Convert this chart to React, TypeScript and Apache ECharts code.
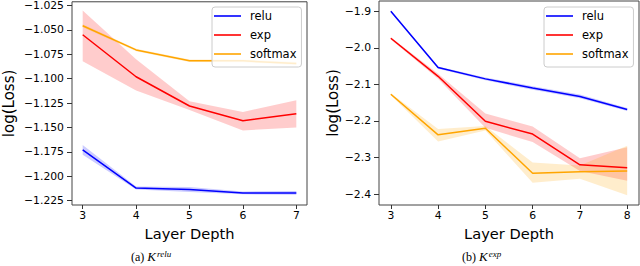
import React, { useEffect, useRef } from "react";
import * as echarts from "echarts";

// ---- Panel (a): K^relu ----
const depthsA = [3, 4, 5, 6, 7];
const reluA = [-1.173, -1.212, -1.2135, -1.217, -1.217];
const reluALow = [-1.178, -1.2135, -1.2160, -1.2185, -1.219];
const reluAHigh = [-1.168, -1.2105, -1.2110, -1.2155, -1.215];
const expA = [-1.055, -1.098, -1.128, -1.143, -1.136];
const expALow = [-1.082, -1.112, -1.132, -1.153, -1.150];
const expAHigh = [-1.030, -1.080, -1.123, -1.134, -1.122];
const softA = [-1.0457, -1.0705, -1.0817, -1.0817, -1.0845];
const softALow = [-1.0472, -1.0718, -1.0830, -1.0832, -1.0860];
const softAHigh = [-1.0442, -1.0692, -1.0804, -1.0802, -1.0830];
const yTicksA = [-1.225, -1.2, -1.175, -1.15, -1.125, -1.1, -1.075, -1.05, -1.025];

// ---- Panel (b): K^exp ----
const depthsB = [3, 4, 5, 6, 7, 8];
const reluB = [-1.9, -2.054, -2.085, -2.11, -2.133, -2.169];
const reluBLow = [-1.903, -2.057, -2.089, -2.115, -2.138, -2.173];
const reluBHigh = [-1.897, -2.051, -2.081, -2.105, -2.128, -2.165];
const expB = [-1.974, -2.078, -2.201, -2.236, -2.320, -2.328];
const expBLow = [-1.977, -2.085, -2.219, -2.258, -2.337, -2.364];
const expBHigh = [-1.971, -2.071, -2.180, -2.215, -2.302, -2.272];
const softB = [-2.127, -2.238, -2.220, -2.343, -2.339, -2.337];
const softBLow = [-2.130, -2.256, -2.226, -2.369, -2.358, -2.403];
const softBHigh = [-2.124, -2.222, -2.214, -2.314, -2.322, -2.268];
const yTicksB = [-2.4, -2.3, -2.2, -2.1, -2.0, -1.9];

const names = ["relu", "exp", "softmax"];
const colors = ["#0000ff", "#ff0000", "#ffa500"];
const bandColors = ["rgba(0,0,255,0.2)", "rgba(255,0,0,0.2)", "rgba(255,165,0,0.2)"];

const FONT = "DejaVu Sans";

function fmtNeg(v: number, d: number) {
  return (v < 0 ? "\u2212" : "") + Math.abs(v).toFixed(d);
}

function band(idx: number, depths: number[], low: number[], high: number[], color: string) {
  return {
    type: "custom",
    xAxisIndex: idx,
    yAxisIndex: idx,
    silent: true,
    z: 1,
    clip: false,
    encode: { x: 0, y: 1 },
    data: [[depths[0], low[0]]],
    renderItem: (_params: any, api: any) => {
      const pts: number[][] = [];
      for (let i = 0; i < depths.length; i++) pts.push(api.coord([depths[i], high[i]]));
      for (let i = depths.length - 1; i >= 0; i--) pts.push(api.coord([depths[i], low[i]]));
      return { type: "polygon", shape: { points: pts }, style: { fill: color } };
    },
  };
}

function line(idx: number, name: string, depths: number[], vals: number[], color: string) {
  return {
    type: "line",
    name,
    xAxisIndex: idx,
    yAxisIndex: idx,
    z: 3,
    symbol: "none",
    color,
    itemStyle: { color },
    lineStyle: { color, width: 1.5 },
    data: depths.map((d, i) => [d, vals[i]]),
  };
}

function xAxis(idx: number, min: number, max: number, ticks: number[]) {
  return {
    type: "value",
    gridIndex: idx,
    min,
    max,
    name: "Layer Depth",
    nameLocation: "middle",
    nameGap: 16,
    nameTextStyle: { fontSize: 14.6, color: "#000", fontFamily: FONT },
    axisLine: { show: false },
    axisTick: { show: true, length: 4, customValues: ticks, lineStyle: { color: "#333" } },
    axisLabel: {
      customValues: ticks,
      margin: 5,
      fontSize: 10.8,
      color: "#000",
      fontFamily: FONT,
      formatter: (v: number) => String(v),
    },
    splitLine: { show: false },
  };
}

function yAxis(idx: number, min: number, max: number, ticks: number[], dec: number, gap: number) {
  return {
    type: "value",
    gridIndex: idx,
    min,
    max,
    name: "log(Loss)",
    nameLocation: "middle",
    nameGap: gap,
    nameTextStyle: { fontSize: 15, color: "#000", fontFamily: FONT },
    axisLine: { show: false },
    axisTick: { show: true, length: 5, customValues: ticks, lineStyle: { color: "#333" } },
    axisLabel: {
      customValues: ticks,
      margin: 8,
      fontSize: 10.8,
      color: "#000",
      fontFamily: FONT,
      formatter: (v: number) => fmtNeg(v, dec),
    },
    splitLine: { show: false },
  };
}

function legend(left: number) {
  return {
    data: names.map((n) => ({ name: n, icon: "rect" })),
    left,
    top: 7,
    orient: "vertical",
    padding: [2, 5, 6, 2],
    itemWidth: 27,
    itemHeight: 1.6,
    itemGap: 5,
    backgroundColor: "rgba(255,255,255,0.8)",
    borderColor: "#cccccc",
    borderWidth: 1,
    borderRadius: 3,
    selectedMode: false,
    textStyle: { fontSize: 11.5, lineHeight: 14, color: "#000", fontFamily: FONT, padding: [0, 0, 0, 4] },
  };
}

function caption(cx: number, letter: string, sup: string) {
  return {
    type: "text",
    left: cx - 22,
    top: 249,
    style: {
      text: `(${letter}) {k|K}{s|${sup}}`,
      font: "12px 'Liberation Serif'",
      fill: "#000",
      rich: {
        k: { fontFamily: "Liberation Serif", fontStyle: "italic", fontSize: 13, fill: "#000", lineHeight: 15 },
        s: { fontFamily: "Liberation Serif", fontStyle: "italic", fontSize: 9, fill: "#000", verticalAlign: "top", lineHeight: 15, padding: [0, 0, 4, 1] },
      },
    },
  };
}

export default function App() {
  const ref = useRef<HTMLDivElement>(null);
  useEffect(() => {
    if (!ref.current) return;
    const chart = echarts.init(ref.current, undefined, { renderer: "svg" });
    const series: any[] = [];
    const A = [[reluA, reluALow, reluAHigh], [expA, expALow, expAHigh], [softA, softALow, softAHigh]];
    const B = [[reluB, reluBLow, reluBHigh], [expB, expBLow, expBHigh], [softB, softBLow, softBHigh]];
    A.forEach((s, i) => series.push(band(0, depthsA, s[1], s[2], bandColors[i])));
    B.forEach((s, i) => series.push(band(1, depthsB, s[1], s[2], bandColors[i])));
    A.forEach((s, i) => series.push(line(0, names[i], depthsA, s[0], colors[i])));
    B.forEach((s, i) => series.push(line(1, names[i], depthsB, s[0], colors[i])));
    chart.setOption({
      animation: false,
      textStyle: { fontFamily: FONT },
      grid: [
        { left: 59, top: 1, width: 248, height: 204, show: true, borderColor: "#444", borderWidth: 1, backgroundColor: "transparent" },
        { left: 379, top: 1, width: 260, height: 204, show: true, borderColor: "#444", borderWidth: 1, backgroundColor: "transparent" },
      ],
      xAxis: [xAxis(0, 2.8, 7.2, depthsA), xAxis(1, 2.75, 8.25, depthsB)],
      yAxis: [yAxis(0, -1.2294, -1.0212, yTicksA, 3, 56), yAxis(1, -2.430, -1.872, yTicksB, 1, 35)],
      legend: [legend(212), legend(544)],
      graphic: [caption(153, "a", "relu"), caption(484, "b", "exp")],
      series,
    });
    return () => chart.dispose();
  }, []);
  return <div ref={ref} style={{ position: "absolute", left: 0, top: 0, width: 640, height: 266 }} />;
}
